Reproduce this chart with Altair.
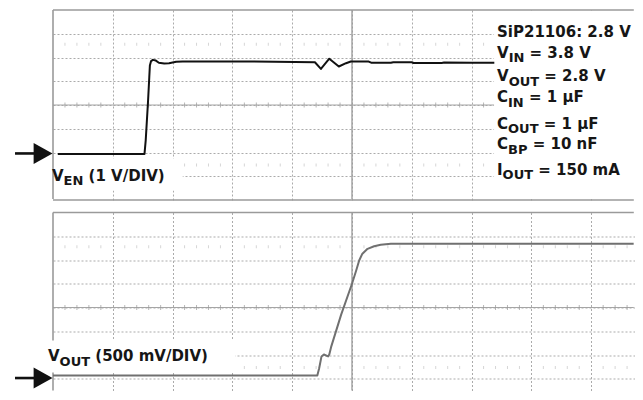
import altair as alt
import pandas as pd

# ---------------- scale constants (oscilloscope divisions) ----------------
PXX = 59.8            # pixels per horizontal division
PXY = 23.75           # pixels per vertical division
PLOT_W = 582
X_MAX = PLOT_W / PXX  # visible horizontal divisions
TOP_H = 190
BOT_H = 179
BOT_YMIN = 8 - BOT_H / PXY
X_END = X_MAX - 0.02

# ---------------- data ----------------
# V_EN trace (time in div, level in div)
en_t = [0.08, 1.53, 1.55, 1.59, 1.61, 1.62, 1.64, 1.67, 1.72, 1.77, 1.86, 1.94,
        2.06, 2.17, 3.31, 4.38, 4.48, 4.62, 4.78, 4.90, 4.98, 5.28, 5.32, 5.65,
        5.69, 6.00, 6.03, 6.50, 6.54, 7.00, 7.38]
en_v = [1.94, 1.94, 2.50, 4.19, 5.17, 5.66, 5.85, 5.90, 5.87, 5.78, 5.75, 5.76,
        5.82, 5.83, 5.83, 5.80, 5.52, 5.95, 5.62, 5.76, 5.83, 5.83, 5.78, 5.78,
        5.80, 5.80, 5.77, 5.77, 5.79, 5.78, 5.78]

# V_OUT trace
out_t = [0.00, 4.42, 4.45, 4.49, 4.53, 4.60, 4.62, 4.65, 4.82, 5.00, 5.07, 5.12,
         5.17, 5.26, 5.37, 5.48, 5.65, 9.71]
out_v = [1.14, 1.14, 1.43, 1.94, 2.02, 1.94, 2.02, 2.33, 3.71, 5.00, 5.56, 5.98,
         6.25, 6.47, 6.58, 6.64, 6.68, 6.68]

# grid (graticule) positions
major_x = [1, 2, 3, 4, 5, 6, 7, 8, 9]
major_y = [1, 2, 3, 4, 5, 6, 7]
minor_x = [round(i * 0.2, 1) for i in range(1, 49) if i % 5 != 0]
faint_rows = [6.56, 1.47]

# ground marker levels (div)
en_ground = 1.96
out_ground = 1.03

# annotation texts: (text, is_subscript)
en_label = [("V", False), ("EN", True), (" (1 V/DIV)", False)]
out_label = [("V", False), ("OUT", True), (" (500 mV/DIV)", False)]
info_lines = [
    [("SiP21106: 2.8 V", False)],
    [("V", False), ("IN", True), (" = 3.8 V", False)],
    [("V", False), ("OUT", True), (" = 2.8 V", False)],
    [("C", False), ("IN", True), (" = 1 µF", False)],
    [("C", False), ("OUT", True), (" = 1 µF", False)],
    [("C", False), ("BP", True), (" = 10 nF", False)],
    [("I", False), ("OUT", True), (" = 150 mA", False)],
]
info_baselines = [6.88, 6.00, 5.01, 4.11, 3.01, 2.13, 1.07]
info_x = 7.425

MAIN_SIZE = 15
SUB_SIZE = 13
FONT = "DejaVu Sans"

# DejaVu Sans Bold advance widths (em)
W = {" ": .348, "(": .457, ")": .457, "/": .365, ".": .380, ":": .400, "=": .838,
     "A": .774, "B": .762, "C": .734, "D": .830, "E": .683, "F": .683, "I": .372,
     "N": .837, "O": .850, "P": .733, "S": .720, "T": .682, "U": .812, "V": .774,
     "i": .343, "m": 1.042, "n": .712, "µ": .721}
for d in "0123456789":
    W[d] = .696


def seg_w(s, size):
    return sum(W.get(c, 0.65) for c in s) * size


def label_rows(x0, y0, parts):
    rows = []
    off = 0.0
    for txt, sub in parts:
        size = SUB_SIZE if sub else MAIN_SIZE
        stripped = txt.lstrip(" ")
        off += seg_w(txt[: len(txt) - len(stripped)], size)
        rows.append({"x": x0 + off / PXX,
                     "y": y0 - (4.5 / PXY if sub else 0.0),
                     "text": stripped, "size": size})
        off += seg_w(stripped, size)
    return rows


GRID_COLOR = "#ababab"
BORDER_COLOR = "#9a9a9a"


def panel(ymin, height, trace_df, trace_color, trace_w, ground, texts, boxes,
          borders_h, hline_x2, frame=False):
    xs = alt.Scale(domain=[0, X_MAX], nice=False, zero=False)
    ys = alt.Scale(domain=[ymin, 8], nice=False, zero=False)
    ax = alt.Axis(values=major_x, grid=True, labels=False, ticks=False, domain=False,
                  title=None, gridColor=GRID_COLOR, gridDash=[2, 2], gridWidth=1)
    ay = alt.Axis(values=major_y, grid=True, labels=False, ticks=False, domain=False,
                  title=None, gridColor=GRID_COLOR, gridDash=[2, 2], gridWidth=1)
    X = alt.X("x:Q", scale=xs, axis=ax)
    Y = alt.Y("y:Q", scale=ys, axis=ay)
    ylo = ymin + 0.04

    layers = []
    # center lines
    hl = pd.DataFrame({"x": [0], "x2": [hline_x2], "y": [4]})
    layers.append(alt.Chart(hl).mark_rule(color="#a5a5a5", strokeWidth=1)
                  .encode(x=X, x2="x2:Q", y=Y))
    vl = pd.DataFrame({"x": [5], "y": [ylo], "y2": [8]})
    layers.append(alt.Chart(vl).mark_rule(color="#999999", strokeWidth=1.3)
                  .encode(x=X, y=Y, y2="y2:Q"))
    # minor ticks along the center line
    mt = pd.DataFrame({"x": minor_x, "y": [4] * len(minor_x)})
    layers.append(alt.Chart(mt).mark_tick(orient="vertical", size=5, thickness=1,
                                          color="#999999")
                  .encode(x=X, y=Y))
    # faint tick rows
    fr = pd.DataFrame([{"x": mx, "y": fy} for fy in faint_rows for mx in minor_x])
    layers.append(alt.Chart(fr).mark_tick(orient="vertical", size=3, thickness=1,
                                          color="#c4c4c4")
                  .encode(x=X, y=Y))
    # borders
    bh = pd.DataFrame({"x": [0] * len(borders_h), "x2": [X_END] * len(borders_h),
                       "y": borders_h})
    layers.append(alt.Chart(bh).mark_rule(color=BORDER_COLOR, strokeWidth=1.6)
                  .encode(x=X, x2="x2:Q", y=Y))
    bl = pd.DataFrame({"x": [0], "y": [max(ylo, 0)], "y2": [8]})
    layers.append(alt.Chart(bl).mark_rule(color=BORDER_COLOR, strokeWidth=1.6)
                  .encode(x=X, y=Y, y2="y2:Q"))
    # white label boxes
    bx = pd.DataFrame(boxes, columns=["x", "x2", "y", "y2"])
    layers.append(alt.Chart(bx).mark_rect(color="white")
                  .encode(x=X, x2="x2:Q", y=Y, y2="y2:Q"))
    # trace
    layers.append(alt.Chart(trace_df).mark_line(color=trace_color, strokeWidth=trace_w,
                                                strokeJoin="round")
                  .encode(x=X, y=Y, order="o:Q"))
    # ground arrow
    ar = pd.DataFrame({"x": [-0.635], "x2": [-0.25], "y": [ground]})
    layers.append(alt.Chart(ar).mark_rule(color="#111111", strokeWidth=2.6)
                  .encode(x=X, x2="x2:Q", y=Y))
    ah = pd.DataFrame({"x": [-0.166], "y": [ground]})
    layers.append(alt.Chart(ah).mark_point(shape="M-0.9,-1L0.9,0L-0.9,1Z", size=441,
                                           filled=True, opacity=1, color="#111111",
                                           strokeWidth=0)
                  .encode(x=X, y=Y))
    # texts
    tx = pd.DataFrame(texts)
    layers.append(alt.Chart(tx).mark_text(font=FONT, fontWeight="bold", align="left",
                                          baseline="alphabetic", color="#161616")
                  .encode(x=X, y=Y, text="text:N", size=alt.Size("size:Q", scale=None)))
    if frame:
        fr_df = pd.DataFrame({"x": [-44 / PXX], "x2": [0], "y": [8 + 1.5 / PXY], "y2": [8]})
        layers.append(alt.Chart(fr_df).mark_rect(opacity=0)
                      .encode(x=X, x2="x2:Q", y=Y, y2="y2:Q"))
    return alt.layer(*layers).properties(width=PLOT_W, height=height)


en_df = pd.DataFrame({"x": en_t, "y": en_v, "o": list(range(len(en_t)))})
out_df = pd.DataFrame({"x": out_t, "y": out_v, "o": list(range(len(out_t)))})

top_texts = label_rows(-1 / PXX, 0.82, en_label)
for parts, yb in zip(info_lines, info_baselines):
    top_texts += label_rows(info_x, yb, parts)
bot_texts = label_rows(-5 / PXX, 1.73, out_label)

top_boxes = [[7.375, X_MAX, 0.04, 7.96], [0.02, 2.17, 0.40, 1.75]]
bot_boxes = [[-0.134, 3.05, 1.26, 2.61]]

top = panel(0, TOP_H, en_df, "#111111", 2.0, en_ground, top_texts, top_boxes,
            [8, 0], 7.4, frame=True)
bot = panel(BOT_YMIN, BOT_H, out_df, "#707070", 2.0, out_ground, bot_texts, bot_boxes,
            [8], X_END)

chart = alt.vconcat(top, bot, spacing=12.5, bounds="flush").configure_view(
    strokeWidth=0).properties(padding={"left": 0, "top": 0, "right": 0, "bottom": 0})

chart.save("out.html", embed_options={"renderer": "svg", "actions": False})
